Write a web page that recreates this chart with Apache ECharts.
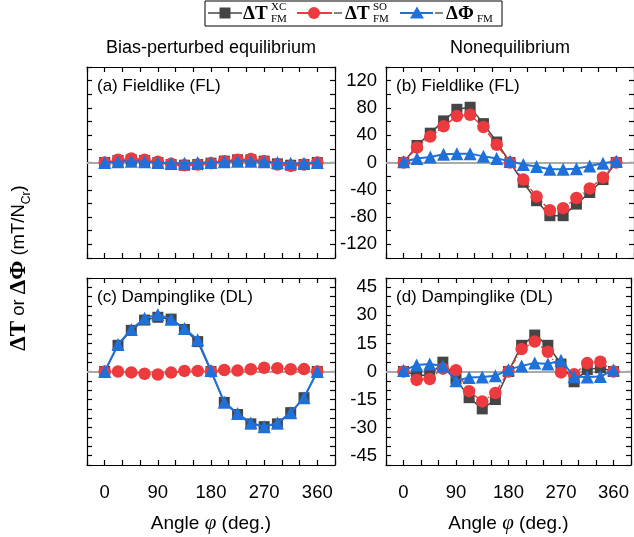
<!DOCTYPE html>
<html>
<head>
<meta charset="utf-8">
<script src="https://cdn.jsdelivr.net/npm/echarts@6/dist/echarts.min.js"></script>
<style>html,body{margin:0;padding:0;background:#fff}#c{width:634px;height:537px}</style>
</head>
<body>
<div id="c"></div>
<script>
// ---- data ----
const angles = [0, 22.5, 45, 67.5, 90, 112.5, 135, 157.5, 180, 202.5, 225, 247.5, 270, 292.5, 315, 337.5, 360];
// (a) Fieldlike, bias-perturbed equilibrium
const aXC  = [0, 3, 4, 3, 0, -3, -4, -3, -1, 2, 4, 4, 2, -2, -4, -3, 0];
const aSO  = [0, 4, 6, 4, 1, -2, -4, -3, -1, 2, 4, 5, 2, -3, -5, -3, 0];
const aPhi = [0, 1, 2, 1, 0, -1, -1, 0, 0, 1, 2, 2, 1, 0, -1, -1, 0];
// (b) Fieldlike, nonequilibrium
const bXC  = [0, 25, 43, 61, 78, 81, 57, 30, 0, -29, -56, -78, -78, -61, -44, -25, 0];
const bSO  = [0, 22, 38, 53, 68, 70, 52, 26, 0, -25, -50, -70, -67, -52, -38, -22, 0];
const bPhi = [1, 6, 8, 12, 13, 13, 9, 6, 2, -3, -6, -10, -10, -9, -5, -1, 2];
// (c) Dampinglike, bias-perturbed equilibrium
const cXC  = [0, 14, 22, 27.5, 29, 28, 22.5, 16, 0, -16.5, -23, -28, -29.5, -28, -22, -14, 0];
const cSO  = [0, 0, -0.5, -1.2, -1.6, -0.6, 0.3, 0.3, 0, 0.8, 0.5, 1.2, 2, 1.8, 1.2, 1.3, 0];
const cPhi = [0, 14.5, 22.5, 28.5, 30.5, 28, 23, 17, 0.5, -16.5, -22.5, -27.5, -29.5, -27.5, -22, -14, 0];
// (d) Dampinglike, nonequilibrium
const dXC  = [0, -2, -2, 5, -4, -14, -20, -15, 0, 14, 19.5, 14, 4, -5.5, 1, 2, 0];
const dSO  = [0, -4.5, -4, 1.5, 0.7, -10.5, -16, -11.5, 0, 12, 16, 10.5, -0.5, -1.5, 4.5, 5.2, 0];
const dPhi = [0.5, 3.5, 4, 3, -5, -3.2, -3, -2.3, 1, 3, 4.5, 4, 6, -2.8, -3, -2.7, 0.8];

const xTicks = [0, 90, 180, 270, 360];
const yTicksFL = [-120, -80, -40, 0, 40, 80, 120];
const yTicksDL = [-45, -30, -15, 0, 15, 30, 45];
const panelLabels = ['(a) Fieldlike (FL)', '(b) Fieldlike (FL)', '(c) Dampinglike (DL)', '(d) Dampinglike (DL)'];
const columnTitles = ['Bias-perturbed equilibrium', 'Nonequilibrium'];

// ---- styles ----
const SANS = 'Liberation Sans, Arial, sans-serif';
const SERIF = 'Liberation Serif, Times New Roman, serif';
const C_XC = '#454545', C_SO = '#ec3a3e', C_PHI = '#1f70d8';

const grids = [
  {left: 87, top: 67, width: 248, height: 191},
  {left: 386, top: 67, width: 248, height: 191},
  {left: 87, top: 278, width: 248, height: 187},
  {left: 386, top: 278, width: 248, height: 187}
];

const xAxes = [], yAxes = [], series = [];
const sets = [[aXC, aSO, aPhi], [bXC, bSO, bPhi], [cXC, cSO, cPhi], [dXC, dSO, dPhi]];

function pairs(v) { return angles.map((a, i) => [a, v[i]]); }

grids.forEach((g, k) => {
  const bottomRow = k >= 2, rightCol = k % 2 === 1;
  const yt = bottomRow ? yTicksDL : yTicksFL;
  const yr = bottomRow ? 50 : 140, yi = bottomRow ? 5 : 20;
  const axLine = {show: true, onZero: false, lineStyle: {color: '#000', width: 1.2}};
  const tick = {show: true, inside: true, length: 5, lineStyle: {color: '#000', width: 1.2}};
  xAxes.push({
    gridIndex: k, type: 'value', min: -30, max: 390, interval: 30, position: 'bottom',
    axisLine: axLine, axisTick: tick, splitLine: {show: false},
    axisLabel: {show: bottomRow, margin: 18, fontSize: 18.5, color: '#000', fontFamily: SANS,
      formatter: v => xTicks.indexOf(v) >= 0 ? String(v) : ''},
    name: bottomRow ? 'Angle {i|φ} (deg.)' : '', nameLocation: 'middle', nameGap: 48,
    nameTextStyle: {fontSize: 19, color: '#000', fontFamily: SANS,
      rich: {i: {fontSize: 21, fontStyle: 'italic', fontFamily: SERIF, color: '#000'}}}
  });
  xAxes.push({
    gridIndex: k, type: 'value', min: -30, max: 390, interval: 30, position: 'top',
    axisLine: axLine, axisTick: tick, splitLine: {show: false}, axisLabel: {show: false}
  });
  yAxes.push({
    gridIndex: k, type: 'value', min: -yr, max: yr, interval: yi, position: 'left',
    axisLine: axLine, axisTick: tick, splitLine: {show: false},
    axisLabel: {show: rightCol, margin: 9, fontSize: 18.5, color: '#000', fontFamily: SANS,
      formatter: v => yt.indexOf(v) >= 0 ? String(v) : ''}
  });
  yAxes.push({
    gridIndex: k, type: 'value', min: -yr, max: yr, interval: yi, position: 'right',
    axisLine: axLine, axisTick: tick, splitLine: {show: false}, axisLabel: {show: false}
  });
  const xi = k * 2, yiIdx = k * 2;
  const [xc, so, phi] = sets[k];
  series.push({
    type: 'line', xAxisIndex: xi, yAxisIndex: yiIdx, data: pairs(xc), z: 3,
    symbol: 'rect', symbolSize: 11, itemStyle: {color: C_XC},
    lineStyle: {color: C_XC, width: 1.5},
    markLine: {silent: true, symbol: 'none', label: {show: false}, z: 1,
      lineStyle: {color: '#aaaaaa', type: 'solid', width: 2}, data: [{yAxis: 0}]}
  });
  series.push({
    type: 'line', xAxisIndex: xi, yAxisIndex: yiIdx, data: pairs(so), z: 4,
    symbol: 'circle', symbolSize: 12.5, itemStyle: {color: C_SO},
    lineStyle: {color: C_SO, width: 1.5, type: [5, 2, 1, 2]}
  });
  series.push({
    type: 'line', xAxisIndex: xi, yAxisIndex: yiIdx, data: pairs(phi), z: 5,
    symbol: 'triangle', symbolSize: 13, itemStyle: {color: C_PHI},
    lineStyle: {color: C_PHI, width: 2}
  });
});

// ---- free text & legend ----
const graphic = [];
function txt(x, y, text, fontSize, extra) {
  return {type: 'text', x: x, y: y, z: 10, style: Object.assign({
    text: text, fontSize: fontSize, fontFamily: SANS, fill: '#000',
    align: 'left', textAlign: 'left', verticalAlign: 'middle', textVerticalAlign: 'middle'
  }, extra || {})};
}
graphic.push(txt(211, 48, columnTitles[0], 18, {align: 'center', textAlign: 'center'}));
graphic.push(txt(510, 48, columnTitles[1], 18, {align: 'center', textAlign: 'center'}));
grids.forEach((g, k) => graphic.push(txt(g.left + 10, g.top + 19, panelLabels[k], 17)));

// y axis title (rotated)
graphic.push({
  type: 'text', x: 19, y: 268, rotation: Math.PI / 2, z: 10,
  style: {
    text: '{b|ΔT}{n| or }{b|ΔΦ}{n| (mT/N}{s|Cr}{n|)}',
    align: 'center', textAlign: 'center', verticalAlign: 'middle', textVerticalAlign: 'middle',
    fill: '#000',
    rich: {
      b: {fontSize: 23, fontWeight: 'bold', fontFamily: SERIF, fill: '#000', color: '#000', lineHeight: 28},
      n: {fontSize: 18.5, fontFamily: SANS, fill: '#000', color: '#000', lineHeight: 28},
      s: {fontSize: 12, fontFamily: SANS, fill: '#000', color: '#000', lineHeight: 28, verticalAlign: 'bottom', padding: [11, 0, 0, 0]}
    }
  }
});

// legend
const LY = 13;
graphic.push({type: 'rect', z: 10, shape: {x: 205, y: 1, width: 297, height: 25},
  style: {fill: '#fff', stroke: '#000', lineWidth: 1}});
function lline(x1, x2, color, w) {
  return {type: 'line', z: 11, shape: {x1: x1, y1: LY, x2: x2, y2: LY}, style: {stroke: color, lineWidth: w}};
}
graphic.push(lline(208, 242, C_XC, 1.5));
graphic.push({type: 'rect', z: 12, shape: {x: 219.5, y: LY - 5.5, width: 11, height: 11}, style: {fill: C_XC}});
graphic.push(lline(297, 332, C_SO, 2));
graphic.push({type: 'circle', z: 12, shape: {cx: 314, cy: LY, r: 6}, style: {fill: C_SO}});
graphic.push(lline(334, 342, '#333', 1.2));
graphic.push(lline(400, 433, C_PHI, 2));
graphic.push({type: 'polygon', z: 12, shape: {points: [[417, LY - 6.5], [424, LY + 5.5], [410, LY + 5.5]]}, style: {fill: C_PHI}});
graphic.push(lline(435, 443, '#333', 1.2));
const LB = {fontSize: 19, fontWeight: 'bold', fontFamily: SERIF};
const LS = {fontSize: 11, fontFamily: SERIF};
const legendTexts = [
  ['ΔT', 'XC', 'FM', 243],
  ['ΔT', 'SO', 'FM', 345],
  ['ΔΦ', '', 'FM', 446]
];
legendTexts.forEach(([m, sup, sub, x]) => {
  graphic.push(txt(x, LY + 1, m, 19, LB));
  const w = m === 'ΔΦ' ? 31 : 28;
  if (sup) graphic.push(txt(x + w, LY - 6, sup, 11, LS));
  graphic.push(txt(x + w, LY + 6, sub, 11, LS));
});

const chart = echarts.init(document.getElementById('c'), null, {renderer: 'canvas'});
chart.setOption({
  animation: false,
  backgroundColor: '#fff',
  grid: grids.map(g => Object.assign({containLabel: false}, g)),
  xAxis: xAxes,
  yAxis: yAxes,
  series: series,
  graphic: graphic
});
</script>
</body>
</html>
